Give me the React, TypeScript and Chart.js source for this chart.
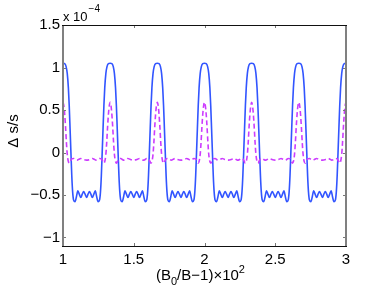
import React, { useEffect, useRef } from "react";
import { Chart, registerables } from "chart.js";

Chart.register(...registerables);

// Axis ticks
const xTickValues = [1, 1.5, 2, 2.5, 3];
const yTickValues = [-1, -0.5, 0, 0.5, 1, 1.5];

// Start (peak) position of each repeated period along x
const periodStarts = [1, 1.3333, 1.6667, 2, 2.3333, 2.6667];
const periodLength = 0.3333;

// Solid blue curve, one period (offset from peak, value ×1e-4)
const blueOffsets = [
  0, 0.012, 0.022, 0.03, 0.038, 0.044, 0.05, 0.056, 0.062, 0.068, 0.075, 0.085,
  0.095, 0.105, 0.115, 0.126, 0.136, 0.146, 0.156, 0.1667, 0.177, 0.187, 0.197,
  0.207, 0.218, 0.228, 0.238, 0.248, 0.258, 0.265, 0.271, 0.277, 0.283, 0.289,
  0.295, 0.303, 0.311, 0.321, 0.3333,
];
const blueValues = [
  1.05, 1.045, 1.01, 0.93, 0.76, 0.55, 0.28, 0.0, -0.27, -0.46, -0.56, -0.58,
  -0.52, -0.45, -0.49, -0.53, -0.49, -0.46, -0.49, -0.53, -0.49, -0.46, -0.49,
  -0.53, -0.49, -0.45, -0.52, -0.58, -0.56, -0.46, -0.27, 0.0, 0.28, 0.55,
  0.76, 0.93, 1.01, 1.045, 1.05,
];

// Dashed magenta curve, one period
const magentaOffsets = [
  0, 0.006, 0.012, 0.018, 0.024, 0.03, 0.037, 0.045, 0.053, 0.062, 0.075, 0.088,
  0.1, 0.112, 0.125, 0.14, 0.1667, 0.193, 0.208, 0.221, 0.233, 0.245, 0.258,
  0.271, 0.28, 0.288, 0.296, 0.303, 0.309, 0.315, 0.321, 0.327, 0.3333,
];
const magentaValues = [
  0.59, 0.55, 0.45, 0.3, 0.12, -0.02, -0.1, -0.125, -0.1, -0.075, -0.07, -0.085,
  -0.09, -0.08, -0.07, -0.08, -0.09, -0.08, -0.07, -0.08, -0.09, -0.085, -0.07,
  -0.075, -0.1, -0.125, -0.1, -0.02, 0.12, 0.3, 0.45, 0.55, 0.59,
];

function tile(offsets: number[], values: number[]) {
  const pts: { x: number; y: number }[] = [];
  periodStarts.forEach((s, k) => {
    offsets.forEach((o, i) => {
      const last = i === offsets.length - 1;
      if (last && k < periodStarts.length - 1) return;
      pts.push({ x: last ? s + periodLength : s + o, y: values[i] });
    });
  });
  return pts;
}

const FONT = "'Liberation Sans', Arial, Helvetica, sans-serif";

function fmt(v: number) {
  const s = String(Math.abs(v));
  return v < 0 ? "\u2212" + s : s;
}

const framePlugin = {
  id: "frame",
  afterDraw(chart: any) {
    const { ctx, chartArea: a, scales } = chart;
    const xs = scales.x;
    const ys = scales.y;
    ctx.save();
    const line = (x1: number, y1: number, x2: number, y2: number) => {
      ctx.beginPath();
      ctx.moveTo(x1, y1);
      ctx.lineTo(x2, y2);
      ctx.stroke();
    };
    // tick marks (inward)
    ctx.strokeStyle = "#777";
    ctx.lineWidth = 1;
    xTickValues.forEach((v) => {
      const px = Math.round(xs.getPixelForValue(v)) + 0.5;
      line(px, a.bottom, px, a.bottom - 3);
      line(px, a.top, px, a.top + 3);
    });
    yTickValues.forEach((v) => {
      const py = Math.round(ys.getPixelForValue(v)) + 0.5;
      line(a.left, py, a.left + 3, py);
      line(a.right, py, a.right - 3, py);
    });
    // frame
    ctx.strokeStyle = "#808080";
    ctx.lineWidth = 2;
    line(a.left, a.top, a.left, a.bottom);
    line(a.right, a.top, a.right, a.bottom);
    ctx.strokeStyle = "#111";
    ctx.lineWidth = 1;
    line(a.left - 1, Math.round(a.top) + 0.5, a.right + 1, Math.round(a.top) + 0.5);
    line(a.left - 1, Math.round(a.bottom) + 0.5, a.right + 1, Math.round(a.bottom) + 0.5);

    ctx.fillStyle = "#000";
    ctx.textBaseline = "alphabetic";
    ctx.textAlign = "left";
    // exponent label
    ctx.font = `13px ${FONT}`;
    ctx.fillText("x 10", a.left, 21);
    const w0 = ctx.measureText("x 10").width;
    ctx.font = `10px ${FONT}`;
    ctx.fillText("\u22124", a.left + w0 + 1, 12);

    // x axis title
    let x = 156;
    const base = 280;
    const parts: [string, number, number][] = [
      ["(B", 15, 0],
      ["0", 11, 5],
      ["/B\u22121)\u00d710", 15, 0],
      ["2", 11, -7],
    ];
    parts.forEach(([t, size, dy]) => {
      ctx.font = `${size}px ${FONT}`;
      ctx.fillText(t, x, base + dy);
      x += ctx.measureText(t).width;
    });

    // y axis title
    ctx.save();
    ctx.translate(18, 131);
    ctx.rotate(-Math.PI / 2);
    ctx.textAlign = "center";
    ctx.font = `15px ${FONT}`;
    ctx.fillText("\u0394 s/s", 0, 0);
    ctx.restore();
    ctx.restore();
  },
};

export default function App() {
  const ref = useRef<HTMLCanvasElement | null>(null);
  useEffect(() => {
    document.body.style.margin = "0";
    const canvas = ref.current;
    if (!canvas) return;
    const chart = new Chart(canvas, {
      type: "line",
      data: {
        datasets: [
          {
            data: tile(magentaOffsets, magentaValues),
            borderColor: "rgb(204, 60, 255)",
            borderWidth: 1.6,
            borderDash: [5, 3],
            pointRadius: 0,
            cubicInterpolationMode: "monotone",
            fill: false,
          },
          {
            data: tile(blueOffsets, blueValues),
            borderColor: "rgb(50, 85, 255)",
            borderWidth: 1.6,
            pointRadius: 0,
            cubicInterpolationMode: "monotone",
            fill: false,
          },
        ],
      },
      options: {
        responsive: false,
        animation: false,
        devicePixelRatio: 1,
        layout: { padding: { top: 25, right: 36, left: 0, bottom: 0 } },
        plugins: { legend: { display: false }, tooltip: { enabled: false } },
        scales: {
          x: {
            type: "linear",
            min: 1,
            max: 3,
            grid: { display: false, drawTicks: false },
            border: { display: false },
            afterBuildTicks: (s: any) => {
              s.ticks = xTickValues.map((v) => ({ value: v }));
            },
            afterFit: (s: any) => {
              s.height = 54;
            },
            ticks: {
              callback: (v: any) => fmt(Number(v)),
              font: { family: FONT, size: 15 },
              color: "#000",
              padding: 5,
              maxRotation: 0,
              autoSkip: false,
            },
          },
          y: {
            type: "linear",
            min: -1.1,
            max: 1.5,
            grid: { display: false, drawTicks: false },
            border: { display: false },
            afterBuildTicks: (s: any) => {
              s.ticks = yTickValues.map((v) => ({ value: v }));
            },
            afterFit: (s: any) => {
              s.width = 63;
            },
            ticks: {
              callback: (v: any) => fmt(Number(v)),
              font: { family: FONT, size: 15 },
              color: "#000",
              padding: 3,
              autoSkip: false,
            },
          },
        },
      },
      plugins: [framePlugin],
    } as any);
    return () => chart.destroy();
  }, []);
  return (
    <div style={{ position: "absolute", left: 0, top: 0, width: 382, height: 300 }}>
      <canvas ref={ref} width={382} height={300} style={{ width: 382, height: 300 }} />
    </div>
  );
}
